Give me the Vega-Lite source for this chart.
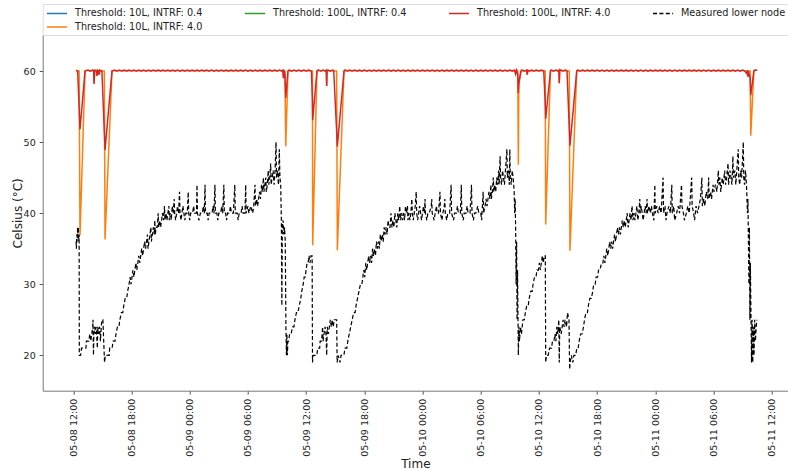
{
"$schema": "https://vega.github.io/schema/vega-lite/v6.json",
"width": 745.3,
"height": 355.7,
"autosize": {"type": "none"},
"padding": {"left": 42.7, "top": 35, "right": 0, "bottom": 80.3},
"config": {"view": {"stroke": null}, "font": "DejaVu Sans"},
"datasets": {
"model": [
{"h":12.28,"o":60.1,"r":60.1},{"h":12.45,"o":60,"r":60},{"h":12.6,"o":60,"r":55},{"h":12.69,"o":36.9,"r":51.8},{"h":13.21,"o":60,"r":60},
{"h":13.5,"o":60.12,"r":60.12},{"h":13.75,"o":60,"r":60},{"h":14.0,"o":60.12,"r":60.12},{"h":14.1,"o":60,"r":60},{"h":14.14,"o":58.2,"r":58.2},
{"h":14.2,"o":60.1,"r":60.1},{"h":14.4,"o":60,"r":60},{"h":14.44,"o":59.3,"r":59.3},{"h":14.5,"o":60.12,"r":60.12},{"h":14.6,"o":60,"r":60},
{"h":14.65,"o":59.5,"r":59.5},{"h":14.75,"o":60.12,"r":60.12},{"h":14.95,"o":60,"r":60},{"h":15.2,"o":60,"r":51.3},{"h":15.27,"o":36.3,"r":48.9},
{"h":15.99,"o":60,"r":60},
{"h":16.25,"o":60.12,"r":60.12},{"h":16.5,"o":60,"r":60},{"h":16.75,"o":60.12,"r":60.12},{"h":17,"o":60,"r":60},{"h":17.25,"o":60.12,"r":60.12},{"h":17.5,"o":60,"r":60},{"h":17.75,"o":60.12,"r":60.12},{"h":18,"o":60,"r":60},
{"h":18.25,"o":60.12,"r":60.12},{"h":18.5,"o":60,"r":60},{"h":18.75,"o":60.12,"r":60.12},{"h":19,"o":60,"r":60},{"h":19.25,"o":60.12,"r":60.12},{"h":19.5,"o":60,"r":60},{"h":19.75,"o":60.12,"r":60.12},{"h":20,"o":60,"r":60},
{"h":20.25,"o":60.12,"r":60.12},{"h":20.5,"o":60,"r":60},{"h":20.75,"o":60.12,"r":60.12},{"h":21,"o":60,"r":60},{"h":21.25,"o":60.12,"r":60.12},{"h":21.5,"o":60,"r":60},{"h":21.75,"o":60.12,"r":60.12},{"h":22,"o":60,"r":60},
{"h":22.25,"o":60.12,"r":60.12},{"h":22.5,"o":60,"r":60},{"h":22.75,"o":60.12,"r":60.12},{"h":23,"o":60,"r":60},{"h":23.25,"o":60.12,"r":60.12},{"h":23.5,"o":60,"r":60},{"h":23.75,"o":60.12,"r":60.12},{"h":24,"o":60,"r":60},
{"h":24.25,"o":60.12,"r":60.12},{"h":24.5,"o":60,"r":60},{"h":24.75,"o":60.12,"r":60.12},{"h":25,"o":60,"r":60},{"h":25.25,"o":60.12,"r":60.12},{"h":25.5,"o":60,"r":60},{"h":25.75,"o":60.12,"r":60.12},{"h":26,"o":60,"r":60},
{"h":26.25,"o":60.12,"r":60.12},{"h":26.5,"o":60,"r":60},{"h":26.75,"o":60.12,"r":60.12},{"h":27,"o":60,"r":60},{"h":27.25,"o":60.12,"r":60.12},{"h":27.5,"o":60,"r":60},{"h":27.75,"o":60.12,"r":60.12},{"h":28,"o":60,"r":60},
{"h":28.25,"o":60.12,"r":60.12},{"h":28.5,"o":60,"r":60},{"h":28.75,"o":60.12,"r":60.12},{"h":29,"o":60,"r":60},{"h":29.25,"o":60.12,"r":60.12},{"h":29.5,"o":60,"r":60},{"h":29.75,"o":60.12,"r":60.12},{"h":30,"o":60,"r":60},
{"h":30.25,"o":60.12,"r":60.12},{"h":30.5,"o":60,"r":60},{"h":30.75,"o":60.12,"r":60.12},{"h":31,"o":60,"r":60},{"h":31.25,"o":60.12,"r":60.12},{"h":31.5,"o":60,"r":60},{"h":31.75,"o":60.12,"r":60.12},{"h":32,"o":60,"r":60},
{"h":32.25,"o":60.12,"r":60.12},{"h":32.5,"o":60,"r":60},{"h":32.75,"o":60.12,"r":60.12},{"h":33,"o":60,"r":60},{"h":33.25,"o":60.12,"r":60.12},{"h":33.5,"o":60,"r":60},
{"h":33.6,"o":60.1,"r":60.1},{"h":33.67,"o":59,"r":59},{"h":33.72,"o":60.1,"r":60.1},{"h":33.82,"o":60,"r":59.5},{"h":33.9,"o":49.4,"r":56.2},{"h":34.13,"o":60,"r":60},
{"h":34.25,"o":60.12,"r":60.12},{"h":34.5,"o":60,"r":60},{"h":34.75,"o":60.12,"r":60.12},{"h":35,"o":60,"r":60},{"h":35.25,"o":60.12,"r":60.12},{"h":35.5,"o":60,"r":60},{"h":35.75,"o":60.12,"r":60.12},{"h":36,"o":60,"r":60},{"h":36.25,"o":60.12,"r":60.12},
{"h":36.55,"o":60,"r":60},{"h":36.65,"o":60,"r":56},{"h":36.68,"o":35.5,"r":53.1},{"h":37.12,"o":60,"r":60},
{"h":37.25,"o":60.12,"r":60.12},{"h":37.5,"o":60,"r":60},{"h":37.75,"o":60.12,"r":60.12},{"h":38,"o":60,"r":60},{"h":38.08,"o":60.1,"r":60.1},{"h":38.12,"o":57.9,"r":57.9},{"h":38.16,"o":60,"r":60},
{"h":38.25,"o":60.12,"r":60.12},{"h":38.5,"o":60,"r":60},{"h":38.75,"o":60.12,"r":60.12},{"h":38.85,"o":60,"r":60},{"h":39.15,"o":60,"r":51.5},{"h":39.22,"o":34.8,"r":49.4},{"h":39.91,"o":60,"r":60},
{"h":40,"o":60.12,"r":60.12},{"h":40.25,"o":60,"r":60},{"h":40.5,"o":60.12,"r":60.12},{"h":40.75,"o":60,"r":60},{"h":41,"o":60.12,"r":60.12},{"h":41.25,"o":60,"r":60},{"h":41.5,"o":60.12,"r":60.12},{"h":41.75,"o":60,"r":60},
{"h":42,"o":60.12,"r":60.12},{"h":42.25,"o":60,"r":60},{"h":42.5,"o":60.12,"r":60.12},{"h":42.75,"o":60,"r":60},{"h":43,"o":60.12,"r":60.12},{"h":43.25,"o":60,"r":60},{"h":43.5,"o":60.12,"r":60.12},{"h":43.75,"o":60,"r":60},
{"h":44,"o":60.12,"r":60.12},{"h":44.25,"o":60,"r":60},{"h":44.5,"o":60.12,"r":60.12},{"h":44.75,"o":60,"r":60},{"h":45,"o":60.12,"r":60.12},{"h":45.25,"o":60,"r":60},{"h":45.5,"o":60.12,"r":60.12},{"h":45.75,"o":60,"r":60},
{"h":46,"o":60.12,"r":60.12},{"h":46.25,"o":60,"r":60},{"h":46.5,"o":60.12,"r":60.12},{"h":46.75,"o":60,"r":60},{"h":47,"o":60.12,"r":60.12},{"h":47.25,"o":60,"r":60},{"h":47.5,"o":60.12,"r":60.12},{"h":47.75,"o":60,"r":60},
{"h":48,"o":60.12,"r":60.12},{"h":48.25,"o":60,"r":60},{"h":48.5,"o":60.12,"r":60.12},{"h":48.75,"o":60,"r":60},{"h":49,"o":60.12,"r":60.12},{"h":49.25,"o":60,"r":60},{"h":49.5,"o":60.12,"r":60.12},{"h":49.75,"o":60,"r":60},
{"h":50,"o":60.12,"r":60.12},{"h":50.25,"o":60,"r":60},{"h":50.5,"o":60.12,"r":60.12},{"h":50.75,"o":60,"r":60},{"h":51,"o":60.12,"r":60.12},{"h":51.25,"o":60,"r":60},{"h":51.5,"o":60.12,"r":60.12},{"h":51.75,"o":60,"r":60},
{"h":52,"o":60.12,"r":60.12},{"h":52.25,"o":60,"r":60},{"h":52.5,"o":60.12,"r":60.12},{"h":52.75,"o":60,"r":60},{"h":53,"o":60.12,"r":60.12},{"h":53.25,"o":60,"r":60},{"h":53.5,"o":60.12,"r":60.12},{"h":53.75,"o":60,"r":60},
{"h":54,"o":60.12,"r":60.12},{"h":54.25,"o":60,"r":60},{"h":54.5,"o":60.12,"r":60.12},{"h":54.75,"o":60,"r":60},{"h":55,"o":60.12,"r":60.12},{"h":55.25,"o":60,"r":60},{"h":55.5,"o":60.12,"r":60.12},{"h":55.75,"o":60,"r":60},
{"h":56,"o":60.12,"r":60.12},{"h":56.25,"o":60,"r":60},{"h":56.5,"o":60.12,"r":60.12},{"h":56.75,"o":60,"r":60},{"h":57,"o":60.12,"r":60.12},{"h":57.25,"o":60,"r":60},{"h":57.5,"o":60.12,"r":60.12},
{"h":57.6,"o":59.6,"r":59.6},{"h":57.7,"o":60.1,"r":60.1},{"h":57.82,"o":60,"r":59.5},{"h":57.88,"o":46.8,"r":56.9},{"h":57.93,"o":58,"r":58.4},{"h":58.15,"o":60,"r":60},
{"h":58.25,"o":60.12,"r":60.12},{"h":58.5,"o":60,"r":60},{"h":58.75,"o":60.12,"r":60.12},{"h":58.8,"o":59.5,"r":59.5},{"h":58.85,"o":60.1,"r":60.1},{"h":59,"o":60,"r":60},{"h":59.25,"o":60.12,"r":60.12},{"h":59.5,"o":60,"r":60},
{"h":59.75,"o":60.12,"r":60.12},{"h":60,"o":60,"r":60},{"h":60.25,"o":60.12,"r":60.12},{"h":60.5,"o":60,"r":60},{"h":60.65,"o":60,"r":55.5},{"h":60.7,"o":38.4,"r":53.3},{"h":61.19,"o":60,"r":60},
{"h":61.25,"o":60.12,"r":60.12},{"h":61.5,"o":60,"r":60},{"h":61.75,"o":60.12,"r":60.12},{"h":62,"o":60,"r":60},{"h":62.06,"o":60.1,"r":60.1},{"h":62.1,"o":58.3,"r":58.3},{"h":62.14,"o":60,"r":60},
{"h":62.25,"o":60.12,"r":60.12},{"h":62.5,"o":60,"r":60},{"h":62.75,"o":60.12,"r":60.12},{"h":62.9,"o":60,"r":60},{"h":63.13,"o":60,"r":52},{"h":63.2,"o":34.7,"r":49.5},{"h":63.9,"o":60,"r":60},
{"h":64,"o":60.12,"r":60.12},{"h":64.25,"o":60,"r":60},{"h":64.5,"o":60.12,"r":60.12},{"h":64.75,"o":60,"r":60},{"h":65,"o":60.12,"r":60.12},{"h":65.25,"o":60,"r":60},{"h":65.5,"o":60.12,"r":60.12},{"h":65.75,"o":60,"r":60},
{"h":66,"o":60.12,"r":60.12},{"h":66.25,"o":60,"r":60},{"h":66.5,"o":60.12,"r":60.12},{"h":66.75,"o":60,"r":60},{"h":67,"o":60.12,"r":60.12},{"h":67.25,"o":60,"r":60},{"h":67.5,"o":60.12,"r":60.12},{"h":67.75,"o":60,"r":60},
{"h":68,"o":60.12,"r":60.12},{"h":68.25,"o":60,"r":60},{"h":68.5,"o":60.12,"r":60.12},{"h":68.75,"o":60,"r":60},{"h":69,"o":60.12,"r":60.12},{"h":69.25,"o":60,"r":60},{"h":69.5,"o":60.12,"r":60.12},{"h":69.75,"o":60,"r":60},
{"h":70,"o":60.12,"r":60.12},{"h":70.25,"o":60,"r":60},{"h":70.5,"o":60.12,"r":60.12},{"h":70.75,"o":60,"r":60},{"h":71,"o":60.12,"r":60.12},{"h":71.25,"o":60,"r":60},{"h":71.5,"o":60.12,"r":60.12},{"h":71.75,"o":60,"r":60},
{"h":72,"o":60.12,"r":60.12},{"h":72.25,"o":60,"r":60},{"h":72.5,"o":60.12,"r":60.12},{"h":72.75,"o":60,"r":60},{"h":73,"o":60.12,"r":60.12},{"h":73.25,"o":60,"r":60},{"h":73.5,"o":60.12,"r":60.12},{"h":73.75,"o":60,"r":60},
{"h":74,"o":60.12,"r":60.12},{"h":74.25,"o":60,"r":60},{"h":74.5,"o":60.12,"r":60.12},{"h":74.75,"o":60,"r":60},{"h":75,"o":60.12,"r":60.12},{"h":75.25,"o":60,"r":60},{"h":75.5,"o":60.12,"r":60.12},{"h":75.75,"o":60,"r":60},
{"h":76,"o":60.12,"r":60.12},{"h":76.25,"o":60,"r":60},{"h":76.5,"o":60.12,"r":60.12},{"h":76.75,"o":60,"r":60},{"h":77,"o":60.12,"r":60.12},{"h":77.25,"o":60,"r":60},{"h":77.5,"o":60.12,"r":60.12},{"h":77.75,"o":60,"r":60},
{"h":78,"o":60.12,"r":60.12},{"h":78.25,"o":60,"r":60},{"h":78.5,"o":60.12,"r":60.12},{"h":78.75,"o":60,"r":60},{"h":79,"o":60.12,"r":60.12},{"h":79.25,"o":60,"r":60},{"h":79.5,"o":60.12,"r":60.12},{"h":79.75,"o":60,"r":60},
{"h":80,"o":60.12,"r":60.12},{"h":80.25,"o":60,"r":60},{"h":80.5,"o":60.12,"r":60.12},{"h":80.75,"o":60,"r":60},{"h":81,"o":60.12,"r":60.12},{"h":81.25,"o":60,"r":60},
{"h":81.4,"o":59.7,"r":59.7},{"h":81.5,"o":60.1,"r":60.1},{"h":81.55,"o":59.2,"r":59.2},{"h":81.6,"o":60,"r":60},{"h":81.78,"o":60,"r":59},{"h":81.84,"o":50.9,"r":56.6},{"h":82.16,"o":60,"r":60},
{"h":82.25,"o":60.12,"r":60.12},{"h":82.5,"o":60.1,"r":60.1}
],
"meas": [
{"h":12.28,"m":36},{"h":12.32,"m":35},{"h":12.36,"m":37},{"h":12.4,"m":36},{"h":12.44,"m":38},{"h":12.48,"m":37},{"h":12.52,"m":38},{"h":12.56,"m":36},{"h":12.6,"m":37},{"h":12.62,"m":20},
{"h":12.75,"m":20},{"h":12.85,"m":21},{"h":13.1,"m":21},{"h":13.3,"m":21},{"h":13.35,"m":22},{"h":13.6,"m":22},{"h":13.7,"m":23},{"h":13.8,"m":22},{"h":13.9,"m":23},{"h":14.0,"m":24},
{"h":14.03,"m":25},{"h":14.08,"m":20},{"h":14.12,"m":23},{"h":14.2,"m":24},{"h":14.28,"m":23},{"h":14.35,"m":24},{"h":14.4,"m":23},{"h":14.48,"m":21},{"h":14.52,"m":24},{"h":14.6,"m":23},
{"h":14.7,"m":24},{"h":14.8,"m":22},{"h":14.88,"m":24},{"h":14.95,"m":25},{"h":15.05,"m":25},{"h":15.22,"m":19},{"h":15.3,"m":20},{"h":15.5,"m":20},{"h":15.7,"m":20},{"h":15.75,"m":21},
{"h":16.0,"m":21},{"h":16.1,"m":22},{"h":16.3,"m":22},{"h":16.4,"m":23},{"h":16.55,"m":24},{"h":16.7,"m":24},{"h":16.8,"m":25},{"h":16.95,"m":26},{"h":17.1,"m":26},{"h":17.2,"m":27},
{"h":17.35,"m":28},{"h":17.5,"m":28},{"h":17.6,"m":29},{"h":17.75,"m":30},{"h":17.85,"m":31},{"h":17.95,"m":30},{"h":18.05,"m":31},{"h":18.15,"m":32},{"h":18.25,"m":31},{"h":18.35,"m":32},
{"h":18.45,"m":33},{"h":18.55,"m":32},{"h":18.65,"m":33},{"h":18.75,"m":34},{"h":18.85,"m":33},{"h":18.95,"m":34},{"h":19.05,"m":35},{"h":19.15,"m":34},{"h":19.25,"m":35},{"h":19.35,"m":36},
{"h":19.45,"m":35},{"h":19.55,"m":36},{"h":19.65,"m":37},{"h":19.7,"m":35},{"h":19.8,"m":36},{"h":19.9,"m":37},{"h":20.0,"m":38},{"h":20.05,"m":36},{"h":20.15,"m":37},{"h":20.25,"m":38},
{"h":20.35,"m":37},{"h":20.4,"m":39},{"h":20.45,"m":37},{"h":20.55,"m":38},{"h":20.65,"m":38},{"h":20.75,"m":40},{"h":20.8,"m":38},{"h":20.9,"m":39},{"h":21.0,"m":38},{"h":21.1,"m":39},
{"h":21.2,"m":40},{"h":21.3,"m":39},{"h":21.4,"m":41},{"h":21.45,"m":39},{"h":21.55,"m":40},{"h":21.65,"m":39},{"h":21.75,"m":40},{"h":21.85,"m":41},{"h":21.9,"m":39},{"h":22.0,"m":40},
{"h":22.1,"m":39},{"h":22.2,"m":41},{"h":22.3,"m":40},{"h":22.4,"m":42},{"h":22.45,"m":40},{"h":22.55,"m":39},{"h":22.65,"m":40},{"h":22.75,"m":41},{"h":22.85,"m":40},{"h":22.95,"m":43},
{"h":23.0,"m":40},{"h":23.1,"m":39},{"h":23.2,"m":40},{"h":23.3,"m":41},{"h":23.4,"m":40},{"h":23.5,"m":39},{"h":23.6,"m":40},{"h":23.75,"m":40},{"h":23.85,"m":43},{"h":23.9,"m":40},
{"h":24.0,"m":39},{"h":24.1,"m":40},{"h":24.3,"m":40},{"h":24.4,"m":41},{"h":24.5,"m":40},{"h":24.7,"m":40},{"h":24.75,"m":44},{"h":24.8,"m":40},{"h":24.95,"m":39},{"h":25.1,"m":40},
{"h":25.3,"m":40},{"h":25.4,"m":41},{"h":25.5,"m":40},{"h":25.58,"m":44},{"h":25.62,"m":40},{"h":25.8,"m":40},{"h":25.9,"m":39},{"h":26.0,"m":40},{"h":26.3,"m":40},{"h":26.4,"m":41},
{"h":26.5,"m":40},{"h":26.6,"m":44},{"h":26.65,"m":40},{"h":26.8,"m":40},{"h":26.9,"m":39},{"h":27.0,"m":40},{"h":27.2,"m":40},{"h":27.3,"m":41},{"h":27.4,"m":40},{"h":27.52,"m":44},
{"h":27.57,"m":40},{"h":27.7,"m":40},{"h":27.8,"m":39},{"h":27.9,"m":40},{"h":28.1,"m":40},{"h":28.2,"m":41},{"h":28.3,"m":40},{"h":28.5,"m":40},{"h":28.65,"m":44},{"h":28.7,"m":40},
{"h":28.9,"m":40},{"h":29.0,"m":39},{"h":29.1,"m":40},{"h":29.3,"m":40},{"h":29.4,"m":41},{"h":29.5,"m":40},{"h":29.7,"m":40},{"h":29.77,"m":44},{"h":29.82,"m":40},{"h":30.0,"m":41},
{"h":30.1,"m":40},{"h":30.3,"m":41},{"h":30.5,"m":40},{"h":30.6,"m":41},{"h":30.73,"m":44},{"h":30.78,"m":41},{"h":30.9,"m":42},{"h":31.0,"m":41},{"h":31.1,"m":42},{"h":31.2,"m":43},
{"h":31.3,"m":42},{"h":31.4,"m":44},{"h":31.5,"m":43},{"h":31.6,"m":45},{"h":31.65,"m":43},{"h":31.75,"m":44},{"h":31.85,"m":45},{"h":31.9,"m":43},{"h":32.0,"m":44},{"h":32.1,"m":46},
{"h":32.15,"m":44},{"h":32.25,"m":45},{"h":32.35,"m":47},{"h":32.4,"m":44},{"h":32.5,"m":45},{"h":32.6,"m":46},{"h":32.7,"m":44},{"h":32.8,"m":46},{"h":32.9,"m":50},{"h":32.95,"m":45},
{"h":33.05,"m":46},{"h":33.15,"m":44},{"h":33.24,"m":49},{"h":33.3,"m":45},{"h":33.38,"m":44},{"h":33.45,"m":39},{"h":33.5,"m":27},{"h":33.55,"m":38},{"h":33.62,"m":39},{"h":33.7,"m":37},
{"h":33.78,"m":38},{"h":33.85,"m":36},{"h":33.92,"m":24},{"h":33.97,"m":20},{"h":34.02,"m":23},{"h":34.07,"m":20},{"h":34.12,"m":22},{"h":34.2,"m":22},{"h":34.3,"m":23},{"h":34.45,"m":23},
{"h":34.6,"m":24},{"h":34.75,"m":24},{"h":34.85,"m":25},{"h":35.0,"m":26},{"h":35.15,"m":26},{"h":35.3,"m":27},{"h":35.45,"m":28},{"h":35.55,"m":29},{"h":35.7,"m":30},{"h":35.8,"m":31},
{"h":35.9,"m":31},{"h":36.0,"m":32},{"h":36.1,"m":33},{"h":36.2,"m":33},{"h":36.3,"m":34},{"h":36.4,"m":33},{"h":36.5,"m":34},{"h":36.62,"m":34},{"h":36.66,"m":19},{"h":36.72,"m":20},
{"h":36.9,"m":20},{"h":37.1,"m":20},{"h":37.2,"m":21},{"h":37.4,"m":21},{"h":37.45,"m":22},{"h":37.6,"m":22},{"h":37.7,"m":24},{"h":37.75,"m":22},{"h":37.85,"m":23},{"h":37.95,"m":24},
{"h":38.05,"m":23},{"h":38.12,"m":20},{"h":38.18,"m":24},{"h":38.3,"m":23},{"h":38.4,"m":24},{"h":38.5,"m":25},{"h":38.6,"m":24},{"h":38.7,"m":25},{"h":38.8,"m":24},{"h":38.9,"m":25},
{"h":39.15,"m":25},{"h":39.2,"m":19},{"h":39.3,"m":20},{"h":39.5,"m":19},{"h":39.6,"m":20},{"h":39.9,"m":20},{"h":40.0,"m":21},{"h":40.2,"m":21},{"h":40.3,"m":22},{"h":40.45,"m":23},
{"h":40.6,"m":24},{"h":40.75,"m":25},{"h":40.9,"m":26},{"h":41.05,"m":26},{"h":41.15,"m":27},{"h":41.3,"m":28},{"h":41.45,"m":29},{"h":41.6,"m":30},{"h":41.75,"m":30},{"h":41.85,"m":31},
{"h":41.95,"m":32},{"h":42.05,"m":31},{"h":42.15,"m":33},{"h":42.25,"m":32},{"h":42.35,"m":33},{"h":42.45,"m":34},{"h":42.55,"m":33},{"h":42.65,"m":34},{"h":42.75,"m":33},{"h":42.85,"m":35},
{"h":42.95,"m":34},{"h":43.05,"m":35},{"h":43.15,"m":34},{"h":43.25,"m":36},{"h":43.35,"m":35},{"h":43.45,"m":36},{"h":43.55,"m":35},{"h":43.65,"m":37},{"h":43.75,"m":36},{"h":43.85,"m":37},
{"h":43.95,"m":36},{"h":44.05,"m":38},{"h":44.15,"m":37},{"h":44.25,"m":38},{"h":44.35,"m":37},{"h":44.45,"m":39},{"h":44.55,"m":38},{"h":44.65,"m":38},{"h":44.75,"m":40},{"h":44.85,"m":38},
{"h":44.95,"m":39},{"h":45.05,"m":38},{"h":45.15,"m":40},{"h":45.25,"m":39},{"h":45.35,"m":38},{"h":45.45,"m":40},{"h":45.55,"m":39},{"h":45.65,"m":41},{"h":45.75,"m":39},{"h":45.85,"m":40},
{"h":45.95,"m":39},{"h":46.05,"m":40},{"h":46.15,"m":39},{"h":46.25,"m":41},{"h":46.35,"m":40},{"h":46.45,"m":41},{"h":46.5,"m":39},{"h":46.6,"m":40},{"h":46.7,"m":39},{"h":46.8,"m":40},
{"h":46.9,"m":42},{"h":46.95,"m":40},{"h":47.05,"m":39},{"h":47.15,"m":40},{"h":47.25,"m":41},{"h":47.35,"m":43},{"h":47.4,"m":40},{"h":47.5,"m":39},{"h":47.6,"m":40},{"h":47.7,"m":41},
{"h":47.8,"m":40},{"h":47.9,"m":39},{"h":48.0,"m":40},{"h":48.1,"m":41},{"h":48.2,"m":40},{"h":48.26,"m":42},{"h":48.3,"m":40},{"h":48.45,"m":39},{"h":48.55,"m":40},{"h":48.7,"m":40},
{"h":48.9,"m":41},{"h":48.95,"m":42},{"h":49.0,"m":40},{"h":49.2,"m":39},{"h":49.3,"m":40},{"h":49.45,"m":41},{"h":49.5,"m":40},{"h":49.65,"m":40},{"h":49.8,"m":43},{"h":49.85,"m":40},
{"h":50.0,"m":39},{"h":50.1,"m":40},{"h":50.25,"m":41},{"h":50.3,"m":42},{"h":50.35,"m":40},{"h":50.5,"m":39},{"h":50.6,"m":40},{"h":50.8,"m":40},{"h":50.95,"m":44},{"h":51.0,"m":40},
{"h":51.2,"m":39},{"h":51.3,"m":40},{"h":51.5,"m":40},{"h":51.6,"m":41},{"h":51.7,"m":40},{"h":51.9,"m":40},{"h":52.0,"m":44},{"h":52.05,"m":40},{"h":52.2,"m":39},{"h":52.3,"m":40},
{"h":52.5,"m":40},{"h":52.6,"m":41},{"h":52.7,"m":40},{"h":52.9,"m":40},{"h":53.05,"m":44},{"h":53.1,"m":40},{"h":53.25,"m":39},{"h":53.35,"m":40},{"h":53.5,"m":40},{"h":53.7,"m":41},
{"h":53.8,"m":40},{"h":54.0,"m":40},{"h":54.1,"m":39},{"h":54.25,"m":43},{"h":54.3,"m":40},{"h":54.45,"m":41},{"h":54.55,"m":42},{"h":54.65,"m":41},{"h":54.75,"m":42},{"h":54.85,"m":43},
{"h":54.95,"m":42},{"h":55.05,"m":44},{"h":55.1,"m":42},{"h":55.2,"m":43},{"h":55.3,"m":45},{"h":55.35,"m":43},{"h":55.45,"m":44},{"h":55.55,"m":43},{"h":55.65,"m":45},{"h":55.75,"m":44},
{"h":55.85,"m":46},{"h":55.9,"m":44},{"h":56.0,"m":48},{"h":56.05,"m":45},{"h":56.15,"m":44},{"h":56.25,"m":46},{"h":56.35,"m":45},{"h":56.45,"m":44},{"h":56.55,"m":46},{"h":56.7,"m":49},
{"h":56.75,"m":45},{"h":56.85,"m":46},{"h":56.95,"m":44},{"h":57.0,"m":49},{"h":57.05,"m":45},{"h":57.15,"m":44},{"h":57.25,"m":46},{"h":57.35,"m":45},{"h":57.45,"m":43},{"h":57.5,"m":40},
{"h":57.55,"m":42},{"h":57.6,"m":38},{"h":57.65,"m":30},{"h":57.7,"m":36},{"h":57.75,"m":25},{"h":57.8,"m":32},{"h":57.84,"m":26},{"h":57.88,"m":20},{"h":57.94,"m":24},{"h":58.0,"m":22},
{"h":58.1,"m":24},{"h":58.2,"m":23},{"h":58.35,"m":25},{"h":58.5,"m":25},{"h":58.6,"m":26},{"h":58.75,"m":27},{"h":58.9,"m":27},{"h":59.0,"m":28},{"h":59.15,"m":29},{"h":59.3,"m":29},
{"h":59.4,"m":30},{"h":59.55,"m":31},{"h":59.7,"m":31},{"h":59.8,"m":32},{"h":59.95,"m":32},{"h":60.05,"m":33},{"h":60.15,"m":32},{"h":60.25,"m":33},{"h":60.35,"m":34},{"h":60.45,"m":33},
{"h":60.55,"m":34},{"h":60.66,"m":34},{"h":60.7,"m":19},{"h":60.78,"m":20},{"h":60.95,"m":20},{"h":61.1,"m":21},{"h":61.3,"m":21},{"h":61.4,"m":22},{"h":61.55,"m":22},{"h":61.65,"m":23},
{"h":61.75,"m":22},{"h":61.85,"m":24},{"h":61.95,"m":23},{"h":62.05,"m":25},{"h":62.1,"m":19},{"h":62.15,"m":24},{"h":62.3,"m":23},{"h":62.4,"m":24},{"h":62.5,"m":25},{"h":62.6,"m":24},
{"h":62.7,"m":25},{"h":62.85,"m":24},{"h":62.95,"m":26},{"h":63.1,"m":25},{"h":63.17,"m":18},{"h":63.22,"m":19},{"h":63.35,"m":20},{"h":63.5,"m":19},{"h":63.6,"m":20},{"h":63.8,"m":20},
{"h":63.9,"m":21},{"h":64.05,"m":21},{"h":64.15,"m":22},{"h":64.3,"m":23},{"h":64.45,"m":23},{"h":64.6,"m":24},{"h":64.7,"m":25},{"h":64.85,"m":26},{"h":65.0,"m":26},{"h":65.1,"m":27},
{"h":65.25,"m":28},{"h":65.4,"m":28},{"h":65.55,"m":29},{"h":65.65,"m":30},{"h":65.8,"m":30},{"h":65.9,"m":31},{"h":66.05,"m":31},{"h":66.15,"m":32},{"h":66.3,"m":32},{"h":66.45,"m":33},
{"h":66.6,"m":33},{"h":66.7,"m":34},{"h":66.8,"m":33},{"h":66.9,"m":34},{"h":67.0,"m":35},{"h":67.1,"m":34},{"h":67.2,"m":35},{"h":67.3,"m":36},{"h":67.4,"m":35},{"h":67.5,"m":36},
{"h":67.6,"m":35},{"h":67.7,"m":36},{"h":67.8,"m":37},{"h":67.9,"m":36},{"h":68.0,"m":37},{"h":68.1,"m":38},{"h":68.2,"m":37},{"h":68.3,"m":38},{"h":68.4,"m":37},{"h":68.5,"m":38},
{"h":68.6,"m":39},{"h":68.7,"m":38},{"h":68.8,"m":39},{"h":68.9,"m":38},{"h":69.0,"m":39},{"h":69.1,"m":40},{"h":69.2,"m":38},{"h":69.3,"m":39},{"h":69.4,"m":40},{"h":69.5,"m":39},
{"h":69.6,"m":41},{"h":69.7,"m":39},{"h":69.8,"m":40},{"h":69.9,"m":39},{"h":70.0,"m":40},{"h":70.1,"m":41},{"h":70.2,"m":39},{"h":70.3,"m":40},{"h":70.4,"m":42},{"h":70.45,"m":40},
{"h":70.55,"m":41},{"h":70.65,"m":40},{"h":70.75,"m":39},{"h":70.85,"m":40},{"h":70.95,"m":41},{"h":71.05,"m":40},{"h":71.15,"m":42},{"h":71.2,"m":40},{"h":71.35,"m":41},{"h":71.5,"m":40},
{"h":71.6,"m":41},{"h":71.7,"m":40},{"h":71.85,"m":39},{"h":71.95,"m":44},{"h":72.0,"m":40},{"h":72.15,"m":41},{"h":72.3,"m":40},{"h":72.45,"m":41},{"h":72.6,"m":40},{"h":72.8,"m":45},
{"h":72.85,"m":40},{"h":73.0,"m":41},{"h":73.1,"m":39},{"h":73.2,"m":40},{"h":73.4,"m":41},{"h":73.55,"m":40},{"h":73.7,"m":44},{"h":73.75,"m":40},{"h":73.9,"m":41},{"h":74.0,"m":39},
{"h":74.2,"m":40},{"h":74.35,"m":41},{"h":74.5,"m":40},{"h":74.7,"m":44},{"h":74.75,"m":41},{"h":74.9,"m":40},{"h":75.0,"m":39},{"h":75.2,"m":40},{"h":75.35,"m":41},{"h":75.5,"m":40},
{"h":75.75,"m":45},{"h":75.8,"m":41},{"h":75.95,"m":40},{"h":76.05,"m":39},{"h":76.2,"m":41},{"h":76.35,"m":40},{"h":76.5,"m":41},{"h":76.65,"m":42},{"h":76.8,"m":45},{"h":76.85,"m":41},
{"h":77.0,"m":42},{"h":77.1,"m":41},{"h":77.25,"m":43},{"h":77.4,"m":42},{"h":77.5,"m":45},{"h":77.55,"m":42},{"h":77.7,"m":43},{"h":77.8,"m":42},{"h":77.95,"m":44},{"h":78.05,"m":43},
{"h":78.2,"m":44},{"h":78.35,"m":43},{"h":78.5,"m":46},{"h":78.55,"m":44},{"h":78.65,"m":45},{"h":78.75,"m":43},{"h":78.9,"m":45},{"h":79.0,"m":44},{"h":79.15,"m":46},{"h":79.25,"m":44},
{"h":79.35,"m":45},{"h":79.5,"m":47},{"h":79.55,"m":44},{"h":79.7,"m":46},{"h":79.8,"m":45},{"h":79.9,"m":44},{"h":80.0,"m":48},{"h":80.05,"m":45},{"h":80.2,"m":46},{"h":80.3,"m":44},
{"h":80.4,"m":46},{"h":80.55,"m":49},{"h":80.6,"m":45},{"h":80.7,"m":44},{"h":80.8,"m":46},{"h":80.9,"m":45},{"h":81.07,"m":50},{"h":81.12,"m":45},{"h":81.2,"m":44},{"h":81.3,"m":46},
{"h":81.4,"m":44},{"h":81.5,"m":40},{"h":81.55,"m":42},{"h":81.6,"m":36},{"h":81.65,"m":30},{"h":81.7,"m":38},{"h":81.75,"m":25},{"h":81.8,"m":33},{"h":81.86,"m":26},{"h":81.92,"m":19},
{"h":81.98,"m":25},{"h":82.05,"m":19},{"h":82.1,"m":24},{"h":82.18,"m":20},{"h":82.25,"m":25},{"h":82.32,"m":22},{"h":82.4,"m":24},{"h":82.48,"m":25}
]
},
"encoding": {
"y": {"field": "v", "type": "quantitative", "scale": {"domain": [15.02, 65.07], "nice": false, "zero": false},
 "axis": {"values": [20,30,40,50,60], "labelFontSize": 9.5, "labelColor": "#222", "labelPadding": 4, "tickSize": 3.5, "tickColor": "#555", "domainColor": "#777", "grid": false, "title": "Celsius (°C)", "titleFontSize": 12, "titleFontWeight": "normal", "titleColor": "#222", "titlePadding": -1}},
"color": {"field": "s", "type": "nominal", "scale": {"domain": ["b","g","r","m","o"], "range": ["#1f77b4","#2ca02c","#d62728","black","#ff7f0e"]},
 "legend": {"values": ["b","g","r","m","o"], "orient": "none", "direction": "horizontal", "legendX": 0, "legendY": -31, "columns": 4, "title": null, "symbolType": "M-2,0H2", "symbolSize": 100, "symbolStrokeWidth": 1.5, "symbolOffset": 5, "labelOffset": 12, "labelFontSize": 9.7, "labelColor": "#222", "columnPadding": 39, "rowPadding": 2.7, "padding": 3.3, "strokeColor": "#dddddd", "fillColor": "white",
 "labelExpr": "datum.value=='b'?'Threshold: 10L, INTRF: 0.4':datum.value=='o'?'Threshold: 10L, INTRF: 4.0':datum.value=='g'?'Threshold: 100L, INTRF: 0.4':datum.value=='r'?'Threshold: 100L, INTRF: 4.0':'Measured lower node'",
 "encode": {"symbols": {"update": {"strokeDash": {"signal": "datum.value=='m' ? [4,2.4] : [1,0]"}}}}}},
"strokeDash": {"field": "s", "type": "nominal", "scale": {"domain": ["b","g","r","m","o"], "range": [[1,0],[1,0],[1,0],[4,2.4],[1,0]]}, "legend": null}
},
"layer": [
{
"data": {"name": "model"},
"transform": [{"fold": ["o", "r"], "as": ["s", "v"]}],
"mark": {"type": "line", "strokeWidth": 1.5},
"encoding": {
"x": {"field": "h", "type": "quantitative", "scale": {"domain": [8.845, 85.68], "nice": false, "zero": false},
 "axis": {"orient": "bottom", "values": [12,18,24,30,36,42,48,54,60,66,72,78,84], "labelExpr": "utcFormat(utc(2022,4,8) + datum.value*3600000, '%m-%d %H:%M')", "labelAngle": -90, "labelFontSize": 9.5, "labelColor": "#222", "labelPadding": 4, "tickSize": 3.5, "tickColor": "#555", "domainColor": "#777", "grid": false, "title": "Time", "titleFontSize": 12, "titleFontWeight": "normal", "titleColor": "#222", "titlePadding": 2}}
}
},
{
"data": {"name": "meas"},
"transform": [{"fold": ["m"], "as": ["s", "v"]}],
"mark": {"type": "line", "strokeWidth": 1.2},
"encoding": {
"x": {"field": "h", "type": "quantitative", "axis": {"orient": "top", "labels": false, "ticks": false, "domain": true, "domainColor": "#777", "grid": false, "title": null}}
}
}
],
"resolve": {"axis": {"x": "independent"}}
}
